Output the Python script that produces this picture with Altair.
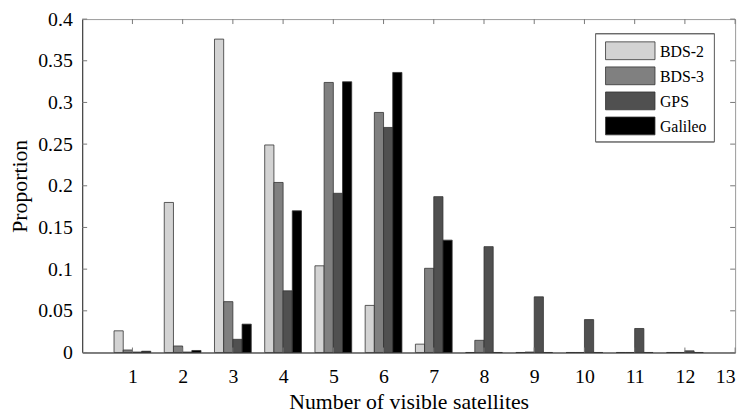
import altair as alt
import pandas as pd

# ---- data ----
sats = [1, 2, 3, 4, 5, 6, 7, 8, 9, 10, 11, 12]
systems = ["BDS-2", "BDS-3", "GPS", "Galileo"]
bds2 = [0.026, 0.180, 0.376, 0.249, 0.104, 0.0565, 0.010, 0.0, 0.0, 0.0, 0.0, 0.0]
bds3 = [0.003, 0.0078, 0.061, 0.204, 0.324, 0.288, 0.101, 0.0146, 0.0005, 0.0, 0.0, 0.0]
gps = [0.0005, 0.0005, 0.0158, 0.074, 0.191, 0.270, 0.187, 0.127, 0.0668, 0.0395, 0.0288, 0.002]
galileo = [0.0015, 0.0024, 0.034, 0.170, 0.3248, 0.336, 0.1348, 0.0, 0.0, 0.0, 0.0, 0.0]
colors = ["#d3d3d3", "#808080", "#505050", "#000000"]
x_ticks = list(range(1, 14))
y_ticks = [0, 0.05, 0.1, 0.15, 0.2, 0.25, 0.3, 0.35, 0.4]

series = [bds2, bds3, gps, galileo]
rows = []
for i, (name, vals) in enumerate(zip(systems, series)):
    for n, v in zip(sats, vals):
        rows.append({"n": n, "system": name, "idx": i, "value": v})
df = pd.DataFrame(rows)
leg_df = pd.DataFrame({"system": systems})

W, H = 660, 337
FONT = "Liberation Serif"
BW = 0.183  # bar width in data units

xscale = alt.Scale(domain=[0, 13], nice=False, zero=False)
yscale = alt.Scale(domain=[0, 0.4], nice=False)
cscale = alt.Scale(domain=systems, range=colors)

bars = alt.Chart(df).transform_calculate(
    xs=f"datum.n + (datum.idx - 2) * {BW}",
    xe=f"datum.n + (datum.idx - 1) * {BW}",
    base="0",
).mark_bar(stroke="#333333", strokeWidth=0.8).encode(
    x=alt.X("xs:Q", scale=xscale,
            axis=alt.Axis(values=x_ticks, title="Number of visible satellites",
                          ticks=False, labelPadding=14, titlePadding=6,
                          grid=False, format="d")),
    x2="xe:Q",
    y=alt.Y("value:Q", scale=yscale,
            axis=alt.Axis(values=y_ticks, title="Proportion", format="~g",
                          ticks=False, labelPadding=10, titlePadding=6,
                          grid=False)),
    y2="base:Q",
    fill=alt.Color("system:N", scale=cscale, legend=None),
)

xt = pd.DataFrame({"xs": x_ticks})
yt = pd.DataFrame({"value": y_ticks})
tick_color = "#777777"

bottom_ticks = alt.Chart(xt).mark_rule(color=tick_color, strokeWidth=1).encode(
    x=alt.X("xs:Q", scale=xscale), y=alt.value(H), y2=alt.value(H - 5))
top_ticks = alt.Chart(xt).mark_rule(color=tick_color, strokeWidth=1).encode(
    x=alt.X("xs:Q", scale=xscale), y=alt.value(0), y2=alt.value(5))
left_ticks = alt.Chart(yt).mark_rule(color=tick_color, strokeWidth=1).encode(
    y=alt.Y("value:Q", scale=yscale, axis=None), x=alt.value(0), x2=alt.value(5))
right_ticks = alt.Chart(yt).mark_rule(color=tick_color, strokeWidth=1).encode(
    y=alt.Y("value:Q", scale=yscale, axis=None), x=alt.value(W - 5), x2=alt.value(W))

# ---- legend drawn as marks ----
leg_y = alt.Scale(type="point", domain=systems, range=[32, 108], padding=0)
leg_box = alt.Chart(leg_df).mark_rect(fill="white", stroke="#666666", strokeWidth=1).encode(
    x=alt.value(519), x2=alt.value(639), y=alt.value(15), y2=alt.value(124))
leg_sym = alt.Chart(leg_df).mark_point(
    shape="M-1,-0.36L1,-0.36L1,0.36L-1,0.36Z", size=2500, filled=True,
    stroke="#333333", strokeWidth=0.8, opacity=1,
).encode(
    x=alt.value(554),
    y=alt.Y("system:N", scale=leg_y, axis=None),
    fill=alt.Color("system:N", scale=cscale, legend=None),
)
leg_txt = alt.Chart(leg_df).mark_text(
    align="left", baseline="middle", font=FONT, fontSize=16, color="black", dy=1,
).encode(
    x=alt.value(584),
    y=alt.Y("system:N", scale=leg_y, axis=None),
    text="system:N",
)

chart = alt.layer(
    bars, bottom_ticks, top_ticks, left_ticks, right_ticks, leg_box, leg_sym, leg_txt
).resolve_scale(y="independent").properties(
    width=W, height=H,
    autosize=alt.AutoSizeParams(type="none"),
    padding={"left": 75, "top": 9, "right": 12, "bottom": 64},
).configure_view(
    stroke="#999999", strokeWidth=1
).configure_axis(
    labelFont=FONT, labelFontSize=20, labelColor="black",
    titleFont=FONT, titleFontSize=22, titleFontWeight="normal", titleColor="black",
    domainColor="#333333", domainWidth=1,
)

chart.save("out.html", embed_options={"renderer": "svg", "actions": False})
